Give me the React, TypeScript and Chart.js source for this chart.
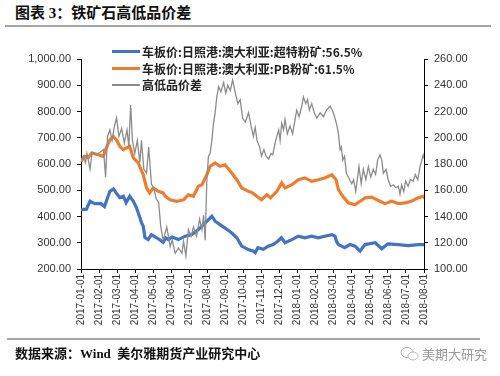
import React, { useEffect, useRef } from "react";
import { Chart, registerables } from "chart.js";

Chart.register(...registerables);

const monthLabels = [
  "2017-01-01", "2017-02-01", "2017-03-01", "2017-04-01", "2017-05-01",
  "2017-06-01", "2017-07-01", "2017-08-01", "2017-09-01", "2017-10-01",
  "2017-11-01", "2017-12-01", "2018-01-01", "2018-02-01", "2018-03-01",
  "2018-04-01", "2018-05-01", "2018-06-01", "2018-07-01", "2018-08-01",
];

const leftTicks = [200, 300, 400, 500, 600, 700, 800, 900, 1000];
const rightTicks = [100, 120, 140, 160, 180, 200, 220, 240, 260];

// Series 1: 超特粉矿 56.5% (left axis) — x in months since 2017-01-01
const superX = [0, 0.3, 0.5, 0.77, 1.1, 1.3, 1.6, 1.8, 1.95, 2.15, 2.35, 2.5, 2.7, 2.9, 3.07, 3.26, 3.35, 3.45, 3.54, 3.72, 3.9, 4.17, 4.35, 4.55, 4.7, 4.85, 5.04, 5.4, 5.77, 6.14, 6.5, 6.88, 7.25, 7.43, 7.7, 7.98, 8.35, 8.63, 8.9, 9.27, 9.55, 9.65, 9.8, 10.1, 10.37, 10.65, 10.9, 11.1, 11.3, 11.68, 12.04, 12.4, 12.78, 13.15, 13.5, 13.9, 14.07, 14.15, 14.26, 14.6, 14.9, 15.18, 15.46, 15.73, 16.3, 16.66, 17.0, 17.58, 18.13, 18.68, 19.05];
const superY = [426, 428, 458, 449, 449, 438, 496, 505, 490, 472, 477, 453, 477, 458, 434, 396, 376, 363, 320, 312, 331, 320, 312, 301, 318, 312, 322, 312, 325, 331, 350, 376, 401, 382, 369, 356, 337, 319, 287, 274, 268, 262, 281, 275, 287, 293, 306, 319, 300, 312, 325, 319, 325, 319, 325, 331, 325, 305, 293, 281, 293, 287, 268, 293, 300, 277, 296, 293, 289, 293, 293];

// Series 2: PB粉矿 61.5% (left axis)
const pbX = [0, 0.2, 0.4, 0.6, 0.96, 1.23, 1.4, 1.6, 1.79, 1.97, 2.15, 2.34, 2.5, 2.7, 2.9, 3.17, 3.45, 3.63, 3.8, 4.0, 4.28, 4.55, 4.67, 4.94, 5.3, 5.68, 5.95, 6.23, 6.5, 6.7, 6.97, 7.15, 7.43, 7.7, 7.98, 8.35, 8.63, 8.9, 9.27, 9.5, 9.74, 10.0, 10.3, 10.5, 10.85, 11.12, 11.3, 11.68, 12.04, 12.4, 12.78, 13.15, 13.5, 13.9, 14.13, 14.26, 14.5, 14.8, 15.18, 15.46, 15.74, 16.1, 16.56, 16.84, 17.2, 17.58, 17.95, 18.3, 18.68, 18.96, 19.05];
const pbY = [610, 629, 625, 642, 635, 629, 661, 692, 705, 692, 667, 654, 661, 667, 623, 604, 559, 509, 490, 509, 496, 490, 477, 464, 458, 464, 483, 477, 515, 521, 559, 591, 604, 591, 597, 566, 540, 509, 496, 490, 477, 464, 483, 471, 496, 528, 509, 521, 540, 547, 534, 540, 547, 559, 540, 502, 477, 452, 445, 458, 471, 474, 458, 449, 458, 449, 452, 458, 471, 477, 470];

// Series 3: 高低品价差 (right axis)
const spreadX = [0, 0.13, 0.25, 0.33, 0.5, 0.62, 0.85, 1.05, 1.25, 1.36, 1.47, 1.6, 1.72, 1.84, 1.97, 2.1, 2.25, 2.4, 2.55, 2.65, 2.75, 2.85, 2.98, 3.12, 3.26, 3.35, 3.48, 3.63, 3.75, 3.9, 4.05, 4.18, 4.3, 4.42, 4.55, 4.65, 4.75, 4.94, 5.05, 5.22, 5.4, 5.59, 5.68, 5.81, 5.95, 6.1, 6.23, 6.4, 6.57, 6.7, 6.79, 6.88, 6.97, 7.06, 7.15, 7.25, 7.34, 7.43, 7.52, 7.62, 7.75, 7.9, 8.02, 8.13, 8.27, 8.4, 8.55, 8.69, 8.82, 8.95, 9.1, 9.28, 9.42, 9.55, 9.6, 9.65, 9.75, 9.89, 10.0, 10.13, 10.25, 10.4, 10.52, 10.62, 10.75, 10.85, 10.95, 11.03, 11.12, 11.22, 11.3, 11.43, 11.58, 11.72, 11.86, 11.95, 12.08, 12.23, 12.32, 12.45, 12.55, 12.65, 12.78, 12.92, 13.06, 13.25, 13.43, 13.6, 13.8, 13.95, 14.07, 14.18, 14.26, 14.35, 14.42, 14.5, 14.6, 14.7, 14.85, 15.0, 15.1, 15.22, 15.32, 15.4, 15.52, 15.64, 15.78, 15.92, 16.05, 16.19, 16.32, 16.43, 16.56, 16.66, 16.75, 16.9, 17.02, 17.15, 17.3, 17.45, 17.58, 17.67, 17.76, 17.88, 17.98, 18.12, 18.25, 18.4, 18.52, 18.65, 18.78, 18.88, 18.96, 19.05];
const spreadY = [183, 186, 181, 188, 176, 189, 187, 189, 191, 170, 201, 206, 198, 208, 215, 201, 207, 196, 206, 193, 225, 198, 188, 198, 181, 198, 176, 173, 193, 165, 160, 153, 151, 132, 122, 127, 132, 117, 122, 112, 116, 112, 121, 110, 130, 125, 132, 125, 138, 130, 141, 122, 168, 186, 188, 198, 211, 219, 231, 239, 235, 242, 234, 240, 236, 244, 234, 226, 229, 215, 212, 219, 209, 201, 205, 208, 198, 193, 186, 191, 186, 184, 188, 187, 196, 201, 206, 198, 211, 206, 214, 203, 209, 203, 214, 221, 216, 224, 231, 226, 229, 221, 226, 219, 215, 219, 216, 221, 224, 220, 215, 209, 203, 191, 193, 183, 186, 173, 169, 165, 168, 159, 170, 178, 165, 176, 168, 178, 170, 176, 172, 183, 187, 183, 173, 176, 168, 163, 164, 162, 163, 157, 164, 159, 167, 163, 168, 167, 172, 168, 178, 183, 187, 183];

const seriesNames = [
  "车板价:日照港:澳大利亚:超特粉矿:56.5%",
  "车板价:日照港:澳大利亚:PB粉矿:61.5%",
  "高低品价差",
];
const seriesColors = ["#4472C4", "#ED7D31", "#8C8C8C"];

const zip = (xs: number[], ys: number[]) => xs.map((x, i) => ({ x, y: ys[i] }));
const fmt = (v: number) =>
  v.toLocaleString("en-US", { minimumFractionDigits: 2, maximumFractionDigits: 2 });

export default function App() {
  const ref = useRef<HTMLCanvasElement | null>(null);

  useEffect(() => {
    if (!ref.current) return;
    const tickFont = { family: "'Liberation Sans', Arial, sans-serif", size: 11 };
    const chart = new Chart(ref.current, {
      type: "line",
      data: {
        datasets: [
          {
            label: seriesNames[2],
            data: zip(spreadX, spreadY),
            borderColor: seriesColors[2],
            borderWidth: 1.3,
            pointRadius: 0,
            yAxisID: "y1",
            order: 0,
          },
          {
            label: seriesNames[1],
            data: zip(pbX, pbY),
            borderColor: seriesColors[1],
            borderWidth: 3.2,
            pointRadius: 0,
            yAxisID: "y",
            order: 1,
          },
          {
            label: seriesNames[0],
            data: zip(superX, superY),
            borderColor: seriesColors[0],
            borderWidth: 3.2,
            pointRadius: 0,
            yAxisID: "y",
            order: 2,
          },
        ],
      },
      options: {
        animation: false,
        responsive: false,
        devicePixelRatio: 1,
        layout: { padding: { top: 59, bottom: 47, left: 0, right: 0 } },
        plugins: { legend: { display: false }, tooltip: { enabled: false } },
        scales: {
          x: {
            type: "linear",
            min: 0,
            max: 19,
            afterBuildTicks: (s: any) => {
              s.ticks = monthLabels.map((_, i) => ({ value: i }));
            },
            afterFit: (s: any) => {
              s.height = 60;
            },
            ticks: {
              autoSkip: false,
              minRotation: 90,
              maxRotation: 90,
              padding: 1,
              color: "#333",
              font: { family: "'Liberation Sans', Arial, sans-serif", size: 10 },
              callback: (v: any) => monthLabels[Math.round(Number(v))] ?? "",
            },
            grid: { drawOnChartArea: false, drawTicks: true, tickLength: 4, color: "#000" },
            border: { display: true, color: "#000", width: 1 },
          },
          y: {
            position: "left",
            min: 200,
            max: 1000,
            afterBuildTicks: (s: any) => {
              s.ticks = leftTicks.map((v) => ({ value: v }));
            },
            afterFit: (s: any) => {
              s.width = 81;
            },
            ticks: { color: "#333", font: tickFont, padding: 6, callback: (v: any) => fmt(Number(v)) },
            grid: { drawOnChartArea: false, drawTicks: true, tickLength: 4, color: "#000" },
            border: { display: true, color: "#000", width: 1 },
          },
          y1: {
            position: "right",
            min: 100,
            max: 260,
            afterBuildTicks: (s: any) => {
              s.ticks = rightTicks.map((v) => ({ value: v }));
            },
            afterFit: (s: any) => {
              s.width = 76;
            },
            ticks: { color: "#333", font: tickFont, padding: 6, callback: (v: any) => fmt(Number(v)) },
            grid: { drawOnChartArea: false, drawTicks: true, tickLength: 4, color: "#000" },
            border: { display: true, color: "#000", width: 1 },
          },
        },
      },
    } as any);
    return () => chart.destroy();
  }, []);

  const cjkSerif = "'Liberation Serif', 'Noto Sans CJK SC', serif";
  const cjkSans = "'Noto Sans CJK SC', 'Liberation Sans', sans-serif";

  return (
    <div style={{ position: "absolute", left: 0, top: 0, width: 500, height: 376, background: "#fff", overflow: "hidden" }}>
      <div style={{ position: "absolute", left: 15, top: 4, font: `bold 15px ${cjkSerif}`, lineHeight: "18px", color: "#111", whiteSpace: "nowrap" }}>
        图表 3：铁矿石高低品价差
      </div>
      <div style={{ position: "absolute", left: 5, top: 25, width: 486, height: 2, background: "#a6a6a6" }} />
      <canvas ref={ref} width={500} height={376} style={{ position: "absolute", left: 0, top: 0, width: 500, height: 376 }} />
      {seriesNames.map((name, i) => (
        <div key={i} style={{ position: "absolute", left: 112, top: 43 + i * 16.7, height: 17, display: "flex", alignItems: "center", whiteSpace: "nowrap" }}>
          <div style={{ width: 28, height: i < 2 ? 3 : 1.5, background: seriesColors[i], marginRight: 2 }} />
          <span style={{ font: `bold 12px ${cjkSans}`, color: "#222", lineHeight: "17px" }}>{name}</span>
        </div>
      ))}
      <div style={{ position: "absolute", left: 7, top: 338, width: 473, height: 2, background: "#a6a6a6" }} />
      <div style={{ position: "absolute", left: 15, top: 346, font: `bold 13px ${cjkSerif}`, lineHeight: "16px", color: "#111", whiteSpace: "nowrap" }}>
        数据来源：Wind&nbsp; 美尔雅期货产业研究中心
      </div>
      <svg style={{ position: "absolute", left: 400, top: 346 }} width={20} height={16} viewBox="0 0 20 16">
        <ellipse cx={7} cy={6.5} rx={6} ry={5} fill="none" stroke="#b5b5b5" strokeWidth={1} />
        <ellipse cx={13} cy={10} rx={5} ry={4} fill="#fff" stroke="#b5b5b5" strokeWidth={1} />
      </svg>
      <div style={{ position: "absolute", left: 422, top: 346, font: `13px ${cjkSans}`, lineHeight: "16px", color: "#9a9a9a", whiteSpace: "nowrap" }}>
        美期大研究
      </div>
    </div>
  );
}
